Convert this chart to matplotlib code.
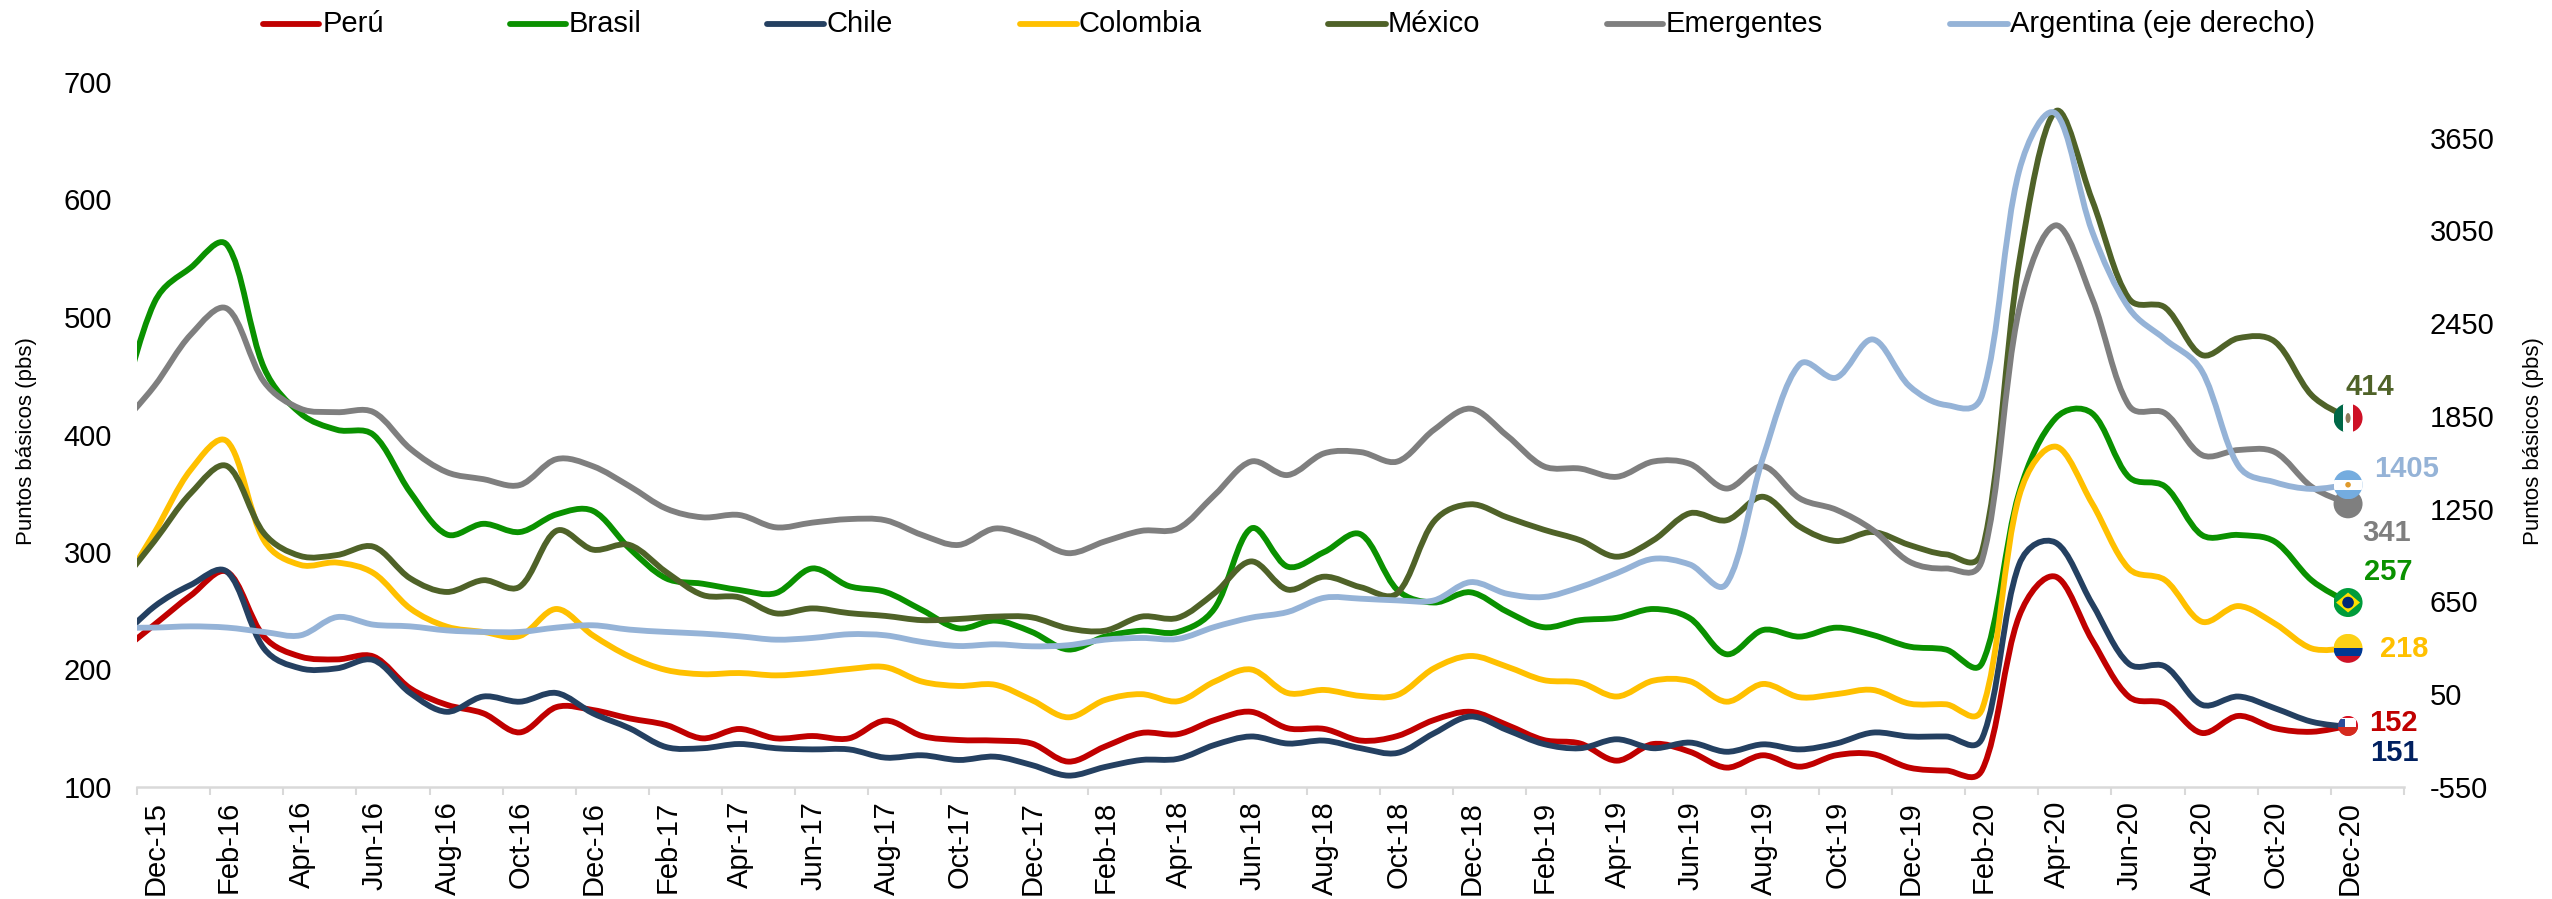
import matplotlib
matplotlib.use("Agg")
import matplotlib.pyplot as plt
import numpy as np
import pandas as pd
from matplotlib.lines import Line2D
from matplotlib.patches import Circle, PathPatch, Polygon, Rectangle, Ellipse
from matplotlib.path import Path
from matplotlib.transforms import IdentityTransform

plt.rcParams['font.family'] = ['Liberation Sans', 'DejaVu Sans']
plt.rcParams['axes.unicode_minus'] = False

# Monthly spreads in basis points, Nov-15 to Dec-20
months = pd.date_range('2015-11-01', '2020-12-01', freq='MS')

peru = [213, 238, 263, 283, 228, 211, 208.6, 211, 184, 170, 162.7, 146.5, 168, 165.5, 158.4,
        152.8, 141.4, 149.4, 141.4, 143.4, 141.4, 156.5, 143.4, 140, 139.5, 137, 121.6, 134.4, 146, 145,
        157, 164, 150, 149.4, 139.5, 143.4, 157, 164, 152.8, 140, 137, 122.4, 136.6, 130,
        116.5, 127, 117.3, 127, 128, 116.5, 114, 115,
        245, 279, 225, 177, 171, 146, 160.5, 150, 147, 152]
brasil = [410, 512, 542, 561, 457, 418, 404, 399.6, 351, 315, 324, 317, 332, 335, 303,
          277.6, 273, 267.7, 265, 286, 271, 266, 250.6, 235, 241.6, 232, 217, 228, 233, 232,
          252, 320, 287.5, 300, 315, 267.7, 257, 265.7, 249.2, 236, 242, 244, 251.5, 243.6,
          213, 233.6, 228, 235.6, 229.4, 219.5, 217, 206,
          350, 413.8, 418, 364, 355.6, 314.5, 314.5, 308.8, 276, 257]
chile = [224, 253.5, 272, 283, 218, 201, 201, 208, 180, 164, 177, 172.6, 180, 162.7, 150,
         134, 133, 136.6, 133, 132, 132, 125, 127, 123, 125.8, 118.7, 109.7, 117, 123, 124,
         135.8, 143, 137, 139.5, 133, 129, 145.7, 160, 148.5, 136.6, 133, 140.6, 133, 137.8,
         130, 136.3, 132, 137, 146.3, 143, 143, 142,
         289, 308, 256, 205, 202.5, 170, 177, 167, 155.6, 151]
colombia = [265, 316, 370, 394, 310, 289, 291, 282, 252, 236.5, 232, 228.5, 251.5, 229, 211,
            199.6, 196, 197, 195, 197, 200.4, 202, 189.7, 186, 187, 174, 159.3, 174, 179, 173,
            189.7, 200, 180, 182.6, 177.5, 178.3, 201, 211.5, 202.4, 191, 188.8, 177, 190.5, 190,
            172.6, 187.7, 176.4, 179, 182.6, 171, 170.4, 167,
            347, 389.7, 341.4, 286, 276, 240.7, 254, 239, 218, 218]
mexico = [270, 309, 350, 373, 316, 296.6, 297.4, 304.5, 277.6, 266, 276, 270.5, 318, 302, 306,
          283, 263.4, 261.4, 247.8, 252, 248, 245.6, 242, 243, 245, 244.4, 235, 233, 245, 244,
          265, 292, 268, 279, 270, 265, 326, 340.6, 329.5, 319, 310, 296, 310, 333,
          327, 347, 321.6, 309.4, 317, 306, 298, 302,
          545.7, 675, 599.6, 516, 508, 467.7, 482, 479, 433.6, 414]
emergentes = [405, 441, 485, 507, 445, 422, 419, 419, 388, 368, 362, 357, 379, 373, 356,
              337, 329.5, 331.5, 321, 325, 328, 327, 314.5, 306, 320, 312, 299, 309, 318, 320,
              348.5, 377, 365.5, 384, 385, 377, 404, 422, 399, 373, 371, 364, 377, 375,
              354, 373, 345.7, 336, 318.8, 291.8, 286, 294,
              506, 578, 516, 425, 418, 382.6, 386.8, 385, 355.6, 341]
argentina = [480, 481, 489, 481, 453, 431, 549, 500, 489, 463, 453, 453, 481, 496, 468,
             453, 442, 425, 403, 414, 438, 431, 388, 362, 373, 360, 367, 403, 414, 408,
             485, 545, 582, 674, 668, 657, 657, 775, 700, 679, 743, 833, 926, 889,
             764.5, 1581, 2183, 2097.5, 2345, 2044, 1921, 1990,
             3431, 3807, 3044, 2549.5, 2345, 2141, 1528, 1421, 1378, 1405]

names = ['Perú', 'Brasil', 'Chile', 'Colombia', 'México', 'Emergentes', 'Argentina (eje derecho)']
colors = ['#C00000', '#0A9100', '#244061', '#FFC000', '#4F6228', '#7F7F7F', '#95B3D7']

left_ticks = [100, 200, 300, 400, 500, 600, 700]
right_ticks = [-550, 50, 650, 1250, 1850, 2450, 3050, 3650]

W, H = 2552, 899
fig = plt.figure(figsize=(W / 100, H / 100), dpi=100, facecolor='white')
ax = fig.add_axes([137 / W, 1 - 787 / H, (2404 - 137) / W, (787 - 82) / H])
ax2 = ax.twinx()
ax.set_xlim(0, 62)
ax.set_ylim(100, 700)
ax2.set_ylim(-550, 4010)

# Month position on the category axis; one category per month, ticks every two
xpos = np.arange(len(months)) - 1 + 0.47


def smooth_path(axis, x, y):
    """Cubic path through the points; handles scale with centripetal on-screen chords."""
    pts = np.column_stack([x, y])
    screen = axis.transData.transform(pts)
    d = np.sqrt(np.hypot(*np.diff(screen, axis=0).T))
    n = len(pts)
    verts = [pts[0]]
    codes = [Path.MOVETO]
    for i in range(n - 1):
        p0 = pts[max(i - 1, 0)]
        p1, p2 = pts[i], pts[i + 1]
        p3 = pts[min(i + 2, n - 1)]
        d0 = d[i - 1] if i > 0 else d[i]
        d1 = d[i]
        d2 = d[i + 1] if i + 1 < n - 1 else d[i]
        verts += [p1 + (p2 - p0) * d1 / (d0 + d1) / 3,
                  p2 - (p3 - p1) * d1 / (d1 + d2) / 3,
                  p2]
        codes += [Path.CURVE4] * 3
    return Path(verts, codes)


def draw_series(axis, values, color, z):
    axis.add_patch(PathPatch(smooth_path(axis, xpos, values), fill=False, edgecolor=color,
                             lw=4.2, capstyle='round', joinstyle='round', zorder=z))


for i, vals in enumerate([peru, brasil, chile, colombia, mexico, emergentes]):
    draw_series(ax, vals, colors[i], 3 + i)
ax2.set_zorder(ax.get_zorder() + 1)
ax2.patch.set_visible(False)
draw_series(ax2, argentina, colors[6], 3)

for a in (ax, ax2):
    for s in ('top', 'left', 'right', 'bottom'):
        a.spines[s].set_visible(False)
ax.spines['bottom'].set_visible(True)
ax.spines['bottom'].set_color('#D9D9D9')
ax.spines['bottom'].set_linewidth(1.8)

ax.set_xticks(np.arange(0, 63, 2))
ax.set_xticklabels([])
ax.tick_params(axis='x', which='major', direction='out', length=6, width=1.5, color='#D9D9D9')
label_pos = np.arange(0, 61, 2) + 0.5
label_text = [d.strftime('%b-%y') for d in months[1::2]]
ax.set_xticks(label_pos, minor=True)
ax.set_xticklabels(label_text, minor=True, rotation=90, fontsize=21, va='top', ha='center')
ax.tick_params(axis='x', which='minor', length=0, pad=10)

ax.set_yticks(left_ticks)
ax.tick_params(axis='y', length=0, labelsize=21, pad=18)
ax2.set_yticks(right_ticks)
ax2.tick_params(axis='y', length=0, labelsize=21, pad=18.5)

for xp in (27, 2534):
    fig.text(xp / W, 1 - 441 / H, 'Puntos básicos (pbs)', rotation=90, fontsize=16,
             ha='center', va='center')

# Legend row
legend_x = [(263, 319, 323), (510, 566, 569), (767, 824, 827), (1020, 1077, 1079),
            (1328, 1386, 1388), (1607, 1663, 1666), (1950, 2008, 2010)]
for (x0, x1, xt), name, col in zip(legend_x, names, colors):
    fig.add_artist(Line2D([x0 / W, x1 / W], [1 - 24 / H] * 2, color=col, lw=4.2,
                          solid_capstyle='round', transform=fig.transFigure))
    fig.text(xt / W, 1 - 24 / H, name, fontsize=21, ha='left', va='center')


# Round flag markers at the last observation, built in pixel units
def flag_center(axis, x, y):
    return axis.transData.transform((x, y))


def add_clipped(axis, circle, artists):
    for art in artists:
        art.set_transform(IdentityTransform())
        art.set_clip_on(True)
        axis.add_artist(art)
        art.set_clip_path(circle)
        art.set_zorder(20)


def rect(x, y, w, h, color):
    return Rectangle((x, y), w, h, facecolor=color, edgecolor='none')


end_x = xpos[-1]
r = 14.5

cx, cy = flag_center(ax, end_x, emergentes[-1])
ax2.add_artist(Circle((cx, cy), r, facecolor='#7F7F7F', edgecolor='none',
                      transform=IdentityTransform(), zorder=19, clip_on=False))

cx, cy = flag_center(ax, end_x, mexico[-1])
c = Circle((cx, cy), r, transform=IdentityTransform())
add_clipped(ax2, c, [rect(cx - r, cy - r, 2 * r / 3 + 0.5, 2 * r, '#006847'),
                     rect(cx - r / 3, cy - r, 2 * r / 3, 2 * r, 'white'),
                     rect(cx + r / 3, cy - r, 2 * r / 3, 2 * r, '#CE1126'),
                     Ellipse((cx, cy), 5, 10, facecolor='#8C7A5B', edgecolor='none')])

cx, cy = flag_center(ax2, end_x, argentina[-1])
c = Circle((cx, cy), r, transform=IdentityTransform())
add_clipped(ax2, c, [rect(cx - r, cy - r, 2 * r, 2 * r, '#74ACDF'),
                     rect(cx - r, cy - r / 3, 2 * r, 2 * r / 3, 'white'),
                     Circle((cx, cy), 2.8, facecolor='#E09A2B', edgecolor='none')])

cx, cy = flag_center(ax, end_x, brasil[-1])
c = Circle((cx, cy), r, transform=IdentityTransform())
add_clipped(ax2, c, [rect(cx - r, cy - r, 2 * r, 2 * r, '#009C3B'),
                     Polygon([(cx - 12, cy), (cx, cy + 10), (cx + 12, cy), (cx, cy - 10)],
                             facecolor='#FFDF00', edgecolor='none'),
                     Circle((cx, cy), 5.8, facecolor='#002776', edgecolor='none')])

cx, cy = flag_center(ax, end_x, colombia[-1])
c = Circle((cx, cy), r, transform=IdentityTransform())
add_clipped(ax2, c, [rect(cx - r, cy, 2 * r, r, '#FCD116'),
                     rect(cx - r, cy - r / 2, 2 * r, r / 2, '#003893'),
                     rect(cx - r, cy - r, 2 * r, r / 2, '#CE1126')])

# Chile on top of Perú share the smaller marker
cx, cy = flag_center(ax, end_x, peru[-1])
r2 = 10
c = Circle((cx, cy), r2, transform=IdentityTransform())
add_clipped(ax2, c, [rect(cx - r2, cy - r2, 2 * r2, 2 * r2, '#D91023'),
                     rect(cx - 7, cy - 1, 15, 9, 'white'),
                     rect(cx - 10, cy - 1, 7, 8, '#2B4C9B'),
                     rect(cx - r2, cy - r2, 2 * r2, r2 - 1, '#D52B1E')])

# End-of-series value labels, placed in pixels around the flags
end_labels = [('414', 2370, 387, colors[4]), ('1405', 2407, 469, colors[6]),
              ('341', 2387, 533, colors[5]), ('257', 2388, 572, colors[1]),
              ('218', 2404, 649, colors[3]), ('152', 2393, 723, colors[0]),
              ('151', 2394, 753, '#002060')]
for txt, lx, ly, col in end_labels:
    fig.text(lx / W, 1 - ly / H, txt, color=col, fontsize=21, fontweight='bold',
             ha='center', va='center')

fig.savefig('out.png', dpi=100, facecolor='white')
